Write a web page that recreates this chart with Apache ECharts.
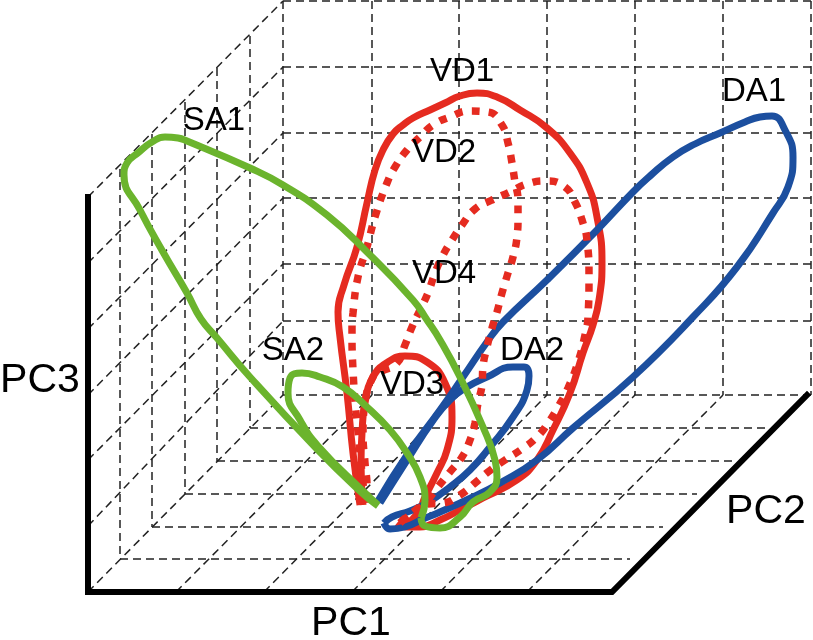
<!DOCTYPE html>
<html>
<head>
<meta charset="utf-8">
<title>PC trajectories</title>
<script src="https://cdn.jsdelivr.net/npm/echarts@6/dist/echarts.min.js"></script>
<style>
html,body{margin:0;padding:0;background:#fff}
#chart{width:813px;height:640px}
</style>
</head>
<body>
<div id="chart"></div>
<script>
// values, axes run 0-813 / 0-640 (y downward)
var wallX = [283, 372, 459, 547, 635, 723, 811];
var wallY = [1, 67, 133, 198, 264, 321, 395];
var leftEdgeY = [197, 263, 329, 395, 460, 526];
var sideX = [120, 152, 185, 217, 250];
var sideTopY = [169, 134, 102, 68, 36];
var floorY = [428, 461, 494, 527, 559];
var floorLeftX = [250, 217, 185, 152, 120];
var floorRightX = [767, 732, 697, 663, 630];
var floorFrontX = [88, 176, 264, 352, 440, 527];
var floorBackX = [283, 372, 459, 547, 635, 723];
var axisPath = [[88, 197], [88, 592], [612, 592], [807, 395]];

var vd1 = [[360,505],[353,453],[347,393],[340,337],[338,312],[344,285],[357,247],[367,203],[375,170],[383,150],[393,134],[403,125],[413,118],[430,110],[445,103],[460,96],[477,93],[497,97],[520,110],[547,128],[570,153],[587,183],[597,217],[602,263],[599,300],[593,325],[583,353],[570,393],[553,430],[537,460],[517,480],[483,498],[460,510],[440,520],[420,527],[407,527],[397,523]];
var vd3 = [[363,505],[361,463],[362,433],[365,403],[373,377],[388,362],[405,356],[427,362],[445,383],[452,417],[447,450],[437,473],[425,497],[418,513],[405,525]];
var vd2 = [[365,503],[363,483],[360,453],[353,370],[352,330],[353,313],[358,277],[367,247],[375,217],[387,183],[395,167],[407,150],[420,137],[433,125],[450,117],[470,111],[488,112],[502,125],[508,143],[512,163],[515,182],[518,200],[518,218],[517,237],[513,257],[508,273],[502,293],[497,312],[492,328],[487,347],[483,367],[482,385],[478,403],[475,423],[470,440],[462,457],[450,472],[437,488],[425,503],[410,515],[400,522]];
var vd4 = [[400,523],[413,512],[427,504],[443,503],[460,495],[475,483],[488,472],[505,460],[522,449],[537,437],[548,423],[558,407],[568,388],[578,362],[585,335],[588,317],[589,277],[587,240],[582,220],[575,202],[565,187],[547,181],[527,184],[510,192],[492,200],[475,209],[462,225],[452,240],[442,257],[435,273],[428,293],[420,310],[412,327],[405,345],[397,363],[380,372],[373,377],[365,403],[363,433],[365,463],[367,487],[365,503]];
var da1 = [[378,501],[407,455],[440,410],[463,377],[487,342],[503,322],[547,280],[597,230],[633,192],[650,176],[673,157],[695,144],[720,133],[745,122],[760,117],[772,116],[785,130],[793,157],[788,187],[773,213],[737,267],[693,317],[633,377],[573,428],[537,460],[500,483],[473,497],[440,512],[423,519],[405,527],[390,529],[384,523]];
var da2 = [[380,503],[409,457],[432,422],[450,400],[467,387],[487,377],[513,367],[524,367],[529,376],[527,390],[513,417],[490,447],[470,470],[450,487],[427,503],[410,511],[392,517],[384,523]];
var sa1 = [[378,506],[362,493],[316,448],[250,377],[217,338],[201,319],[187,293],[163,252],[140,210],[124,175],[127,163],[139,152],[152,142],[165,137],[178,138],[187,141],[250,168],[283,185],[327,215],[367,252],[413,300],[427,320],[440,340],[460,377],[483,427],[495,460],[497,477],[490,492],[473,502],[460,517],[440,528],[425,526],[421,518]];
var sa2 = [[378,505],[364,492],[318,446],[300,420],[288,393],[290,378],[302,373],[320,377],[343,387],[367,407],[390,430],[407,453],[420,477],[425,500],[421,518]];

var textNames = ['SA1', 'VD1', 'VD2', 'VD4', 'SA2', 'VD3', 'DA2', 'DA1'];
var textX = [214, 462, 444, 444, 293, 412, 532, 754];
var textY = [121, 72, 153, 274, 351, 385, 351, 92];
var axisNames = ['PC1', 'PC2', 'PC3'];
var axisNameX = [351, 766, 40];
var axisNameY = [624, 512, 381];

var redColor = '#e52b20';
var blueColor = '#1c4f9f';
var greenColor = '#6bb42d';

// dashed box, each entry one segment
var gridLines = [];
function addGrid(x1, y1, x2, y2){
  gridLines.push({coords: [[x1, y1], [x2, y2]]});
}
wallX.forEach(function(x){ addGrid(x, wallY[0], x, wallY[6]); });
wallY.forEach(function(y){ addGrid(wallX[0], y, wallX[6], y); });
leftEdgeY.forEach(function(y, i){ addGrid(88, y, wallX[0], wallY[i]); });
sideX.forEach(function(x, i){ addGrid(x, sideTopY[i], x, floorY[4 - i]); });
floorY.forEach(function(y, i){ addGrid(floorLeftX[i], y, floorRightX[i], y); });
floorFrontX.forEach(function(x, i){ addGrid(x, 592, floorBackX[i], 395); });

function curve(name, data, color, dashed){
  return {
    name: name,
    type: 'line',
    data: data,
    smooth: 0.5,
    showSymbol: false,
    silent: true,
    lineStyle: {color: color, width: dashed ? 7.5 : 7, type: dashed ? [8, 9] : 'solid', cap: 'butt'}
  };
}
function textSeries(names, xs, ys, size){
  return {
    type: 'scatter',
    symbolSize: 1,
    silent: true,
    itemStyle: {color: 'transparent', opacity: 1},
    data: names.map(function(n, i){ return {name: n, value: [xs[i], ys[i]]}; }),
    label: {
      show: true,
      position: 'inside',
      formatter: '{b}',
      color: '#000',
      opacity: 1,
      fontSize: size,
      fontFamily: 'Liberation Sans'
    },
    z: 5
  };
}

var option = {
  animation: false,
  backgroundColor: '#fff',
  grid: {left: 0, right: 0, top: 0, bottom: 0},
  xAxis: {type: 'value', min: 0, max: 813, show: false},
  yAxis: {type: 'value', min: 0, max: 640, inverse: true, show: false},
  series: [{
    type: 'lines',
    coordinateSystem: 'cartesian2d',
    data: gridLines,
    silent: true,
    lineStyle: {color: '#222', width: 1.5, type: [8, 5], opacity: 1}
  },{
    type: 'line',
    data: axisPath,
    showSymbol: false,
    silent: true,
    lineStyle: {color: '#000', width: 6, cap: 'square', join: 'miter'}
  },
    curve('VD1', vd1, redColor, false),
    curve('VD3', vd3, redColor, false),
    curve('DA1', da1, blueColor, false),
    curve('DA2', da2, blueColor, false),
    curve('VD2', vd2, redColor, true),
    curve('VD4', vd4, redColor, true),
    curve('SA1', sa1, greenColor, false),
    curve('SA2', sa2, greenColor, false),
    textSeries(textNames, textX, textY, 33),
    textSeries(axisNames, axisNameX, axisNameY, 41)
  ]
};
var chart = echarts.init(document.getElementById('chart'));
chart.setOption(option);
</script>
</body>
</html>
